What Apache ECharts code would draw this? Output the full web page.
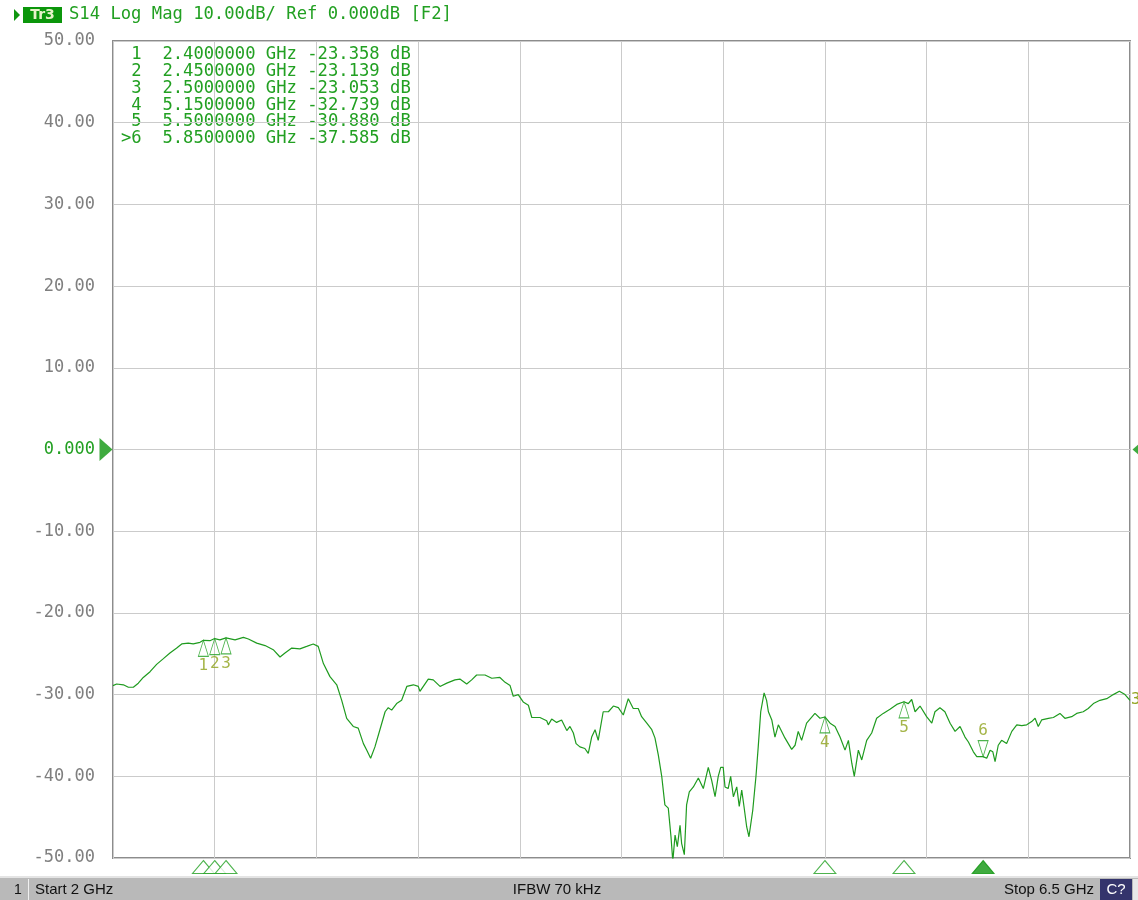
<!DOCTYPE html>
<html><head><meta charset="utf-8">
<script src="https://cdn.jsdelivr.net/npm/echarts@6/dist/echarts.min.js"></script>
<style>html,body{margin:0;padding:0;background:#fff;overflow:hidden}#c{width:1138px;height:900px}</style>
</head><body><div id="c"></div>
<script>
// ---- data ----
const freqGHz = [
2.000,2.001,2.016,2.046,2.068,2.090,2.112,2.134,2.164,2.193,2.223,2.252,2.282,2.304,2.333,2.355,2.385,2.400,2.429,2.450,2.473,2.500,2.540,2.577,2.599,2.636,2.673,2.709,2.739,2.761,2.791,2.827,2.857,2.886,2.908,2.931,2.960,2.990,
3.012,3.034,3.063,3.085,3.108,3.123,3.140,3.159,3.181,3.204,3.218,3.233,3.255,3.277,3.300,3.329,3.351,3.358,3.395,3.417,3.447,3.477,3.513,3.535,3.565,3.587,3.609,3.646,3.676,3.712,3.735,3.757,3.771,3.793,3.815,3.838,3.853,3.875,3.889,3.919,3.926,3.941,3.963,3.985,
4.008,4.022,4.037,4.049,4.066,4.088,4.103,4.118,4.133,4.147,4.169,4.192,4.214,4.236,4.258,4.280,4.302,4.324,4.339,4.362,4.384,4.398,4.413,4.428,4.442,4.457,4.469,4.477,4.487,4.497,4.509,4.516,4.528,4.538,4.550,4.568,4.590,4.612,4.634,4.649,4.664,4.678,4.689,4.700,4.708,4.722,4.733,4.745,4.760,4.771,4.782,4.792,4.804,4.814,4.831,4.845,4.855,4.866,4.881,4.892,4.900,4.915,4.929,4.944,4.951,4.973,
5.003,5.018,5.032,5.047,5.069,5.106,5.128,5.150,5.173,5.195,5.217,5.239,5.254,5.269,5.280,5.298,5.313,5.335,5.357,5.379,5.408,5.438,5.468,5.500,5.519,5.534,5.549,5.571,5.600,5.623,5.637,5.659,5.681,5.704,5.726,5.748,5.770,5.785,5.807,5.822,5.850,5.866,5.881,5.893,5.903,5.917,5.932,5.954,5.977,5.999,
6.021,6.043,6.065,6.080,6.094,6.109,6.139,6.161,6.190,6.212,6.242,6.264,6.293,6.315,6.338,6.367,6.397,6.426,6.453,6.478,6.500];
const magDB = [
-28.9,-28.9,-28.7,-28.8,-29.1,-29.1,-28.6,-27.9,-27.2,-26.3,-25.6,-24.9,-24.3,-23.8,-23.7,-23.8,-23.6,-23.36,-23.4,-23.14,-23.3,-23.05,-23.3,-23.0,-23.2,-23.7,-24.0,-24.5,-25.4,-24.9,-24.3,-24.4,-24.1,-23.8,-24.1,-26.2,-27.8,-28.8,
-30.7,-32.9,-33.9,-34.1,-36.0,-36.8,-37.8,-36.4,-34.3,-32.1,-31.6,-31.9,-31.1,-30.7,-29.0,-28.8,-29.0,-29.6,-28.1,-28.2,-29.0,-28.6,-28.2,-28.1,-28.7,-28.2,-27.6,-27.6,-28.0,-27.9,-28.5,-28.9,-30.2,-30.0,-30.9,-31.3,-32.8,-32.8,-32.8,-33.2,-33.7,-33.0,-33.4,-33.1,
-34.4,-33.9,-34.7,-36.0,-36.4,-36.6,-37.2,-35.2,-34.3,-35.6,-32.1,-32.1,-31.4,-31.6,-32.5,-30.5,-31.7,-31.7,-32.7,-33.5,-34.3,-35.3,-37.4,-40.0,-43.5,-43.9,-47.4,-50.4,-47.2,-48.6,-46.0,-48.2,-49.6,-43.5,-41.9,-41.3,-40.2,-41.5,-38.9,-40.5,-42.5,-40.0,-38.9,-38.9,-41.3,-41.5,-40.0,-42.5,-41.3,-43.7,-41.7,-43.7,-46.2,-47.4,-44.1,-40.0,-36.4,-32.1,-29.8,-30.7,-32.1,-33.1,-35.2,-33.7,-33.5,-35.3,
-36.7,-36.2,-34.5,-35.6,-33.5,-32.3,-32.9,-32.74,-33.5,-33.9,-35.2,-36.8,-35.6,-38.4,-40.0,-36.8,-38.0,-35.6,-34.7,-32.9,-32.3,-31.8,-31.2,-30.88,-31.1,-30.6,-32.1,-31.4,-32.7,-33.5,-32.1,-31.6,-32.1,-33.5,-34.5,-33.9,-35.2,-35.8,-37.0,-37.6,-37.59,-37.8,-36.8,-37.0,-38.2,-36.2,-35.6,-36.0,-34.5,-33.7,
-33.8,-33.7,-33.3,-32.9,-33.9,-33.1,-32.9,-32.8,-32.3,-32.9,-32.7,-32.3,-32.1,-31.7,-31.1,-30.7,-30.5,-30.0,-29.6,-30.0,-30.7];

const markerIds = ['1','2','3','4','5','6'];
const markerFreqGHz = [2.40, 2.45, 2.50, 5.15, 5.50, 5.85];
const markerDB = [-23.358, -23.139, -23.053, -32.739, -30.880, -37.585];
const activeMarker = 5; // index of ">6"

const yMin = -50, yMax = 50, yStep = 10;
const xStart = 2, xStop = 6.5, xDivisions = 10;
const titleText = 'S14 Log Mag 10.00dB/ Ref 0.000dB [F2]';
const traceTag = 'Tr3';
const traceNum = '3';
const channelNum = '1';
const startLabel = 'Start 2 GHz';
const ifbwLabel = 'IFBW 70 kHz';
const stopLabel = 'Stop 6.5 GHz';
const calLabel = 'C?';

// ---- styles ----
const GREEN = '#22a022';
const TRACE = '#1f9b1f';
const OLIVE = '#8fa31c';
const MONO = 'DejaVu Sans Mono';

const traceData = freqGHz.map((f, i) => [f, magDB[i]]);
const triUp = 'path://M5,0L10,16L0,16Z';
const triDown = 'path://M0,0L10,0L5,16Z';

const onTraceUp = [], onTraceDown = [], stim = [];
markerFreqGHz.forEach((f, i) => {
  const item = { value: [f, markerDB[i]], name: markerIds[i] };
  if (i === activeMarker) onTraceDown.push(item); else onTraceUp.push(item);
  stim.push({ value: [f, yMin], itemStyle: i === activeMarker ? { color: '#0f960f', borderColor: '#0f960f' } : {} });
});

const tableGraphics = markerIds.map((id, i) => {
  const pre = (i === activeMarker ? '>' : ' ') + id;
  const s = pre + '  ' + markerFreqGHz[i].toFixed(7) + ' GHz ' + markerDB[i].toFixed(3) + ' dB';
  return { type: 'text', x: 121, y: 55 + 16.7 * i, style: { text: s, fill: GREEN, font: '17.2px "' + MONO + '"', verticalAlign: 'middle' } };
});

const chart = echarts.init(document.getElementById('c'), null, { renderer: 'canvas' });
chart.setOption({
  animation: false,
  backgroundColor: '#ffffff',
  grid: { left: 113, right: 8, top: 41, bottom: 42, show: true, borderColor: '#8c8c8c', borderWidth: 2, backgroundColor: 'transparent' },
  xAxis: [
    { type: 'value', min: xStart, max: xStop, axisLine: { show: false }, axisTick: { show: false }, axisLabel: { show: false }, splitLine: { show: false } },
    { type: 'value', min: 0, max: xDivisions, interval: 1, position: 'bottom', axisLine: { show: false }, axisTick: { show: false }, axisLabel: { show: false },
      splitLine: { show: true, lineStyle: { color: '#cbcbcb', width: 1 } } }
  ],
  yAxis: {
    type: 'value', min: yMin, max: yMax, interval: yStep,
    axisLine: { show: false }, axisTick: { show: false },
    splitLine: { show: true, lineStyle: { color: '#cbcbcb', width: 1 } },
    axisLabel: {
      margin: 18, color: '#7f7f7f', fontFamily: MONO, fontSize: 17,
      formatter: v => v === 0 ? '{z|0.000}' : v.toFixed(2),
      rich: { z: { color: GREEN, fontFamily: MONO, fontSize: 17 } }
    }
  },
  series: [
    { type: 'line', xAxisIndex: 0, data: traceData, showSymbol: false, symbol: 'none', clip: true,
      lineStyle: { color: TRACE, width: 1.2 }, z: 5,
      endLabel: { show: true, formatter: traceNum, color: OLIVE, fontFamily: MONO, fontSize: 16, distance: 1 } },
    { type: 'scatter', xAxisIndex: 0, data: onTraceUp, symbol: triUp, symbolSize: [10, 16], symbolOffset: [0, 8], z: 6,
      itemStyle: { color: 'rgba(255,255,255,0)', borderColor: GREEN, borderWidth: 1 },
      label: { show: true, position: 'bottom', distance: 1, formatter: p => p.name, color: OLIVE, fontFamily: MONO, fontSize: 16 } },
    { type: 'scatter', xAxisIndex: 0, data: onTraceDown, symbol: triDown, symbolSize: [10, 16], symbolOffset: [0, -8], z: 6,
      itemStyle: { color: 'rgba(255,255,255,0)', borderColor: GREEN, borderWidth: 1 },
      label: { show: true, position: 'top', distance: 1, formatter: p => p.name, color: OLIVE, fontFamily: MONO, fontSize: 16 } },
    { type: 'scatter', xAxisIndex: 0, data: stim, symbol: 'path://M11,0L22,13L0,13Z', symbolSize: [22, 13], symbolOffset: [0, 9], clip: false, z: 6,
      itemStyle: { color: '#ffffff', borderColor: GREEN, borderWidth: 1 } },
    { type: 'scatter', xAxisIndex: 0, data: [[xStart, 0]], symbol: 'path://M0,0L13,11.5L0,23Z', symbolSize: [13, 23], symbolOffset: [-7, 0], clip: false, z: 6,
      itemStyle: { color: '#0f960f' } },
    { type: 'scatter', xAxisIndex: 0, data: [[xStop, 0]], symbol: 'path://M13,0L0,11.5L13,23Z', symbolSize: [13, 23], symbolOffset: [9, 0], clip: false, z: 6,
      itemStyle: { color: '#0f960f' } }
  ],
  graphic: [
    { type: 'polygon', shape: { points: [[14, 9], [20, 15], [14, 21]] }, style: { fill: '#0f960f' } },
    { type: 'rect', shape: { x: 23, y: 7, width: 39, height: 16 }, style: { fill: '#0b960b' } },
    { type: 'text', x: 42.5, y: 15.5, style: { text: traceTag, fill: '#e6f2c8', font: 'bold 14px "DejaVu Sans"', align: 'center', verticalAlign: 'middle' } },
    { type: 'text', x: 69, y: 15, style: { text: titleText, fill: GREEN, font: '17.2px "' + MONO + '"', verticalAlign: 'middle' } },
    ...tableGraphics,
    { type: 'rect', shape: { x: 0, y: 876, width: 1138, height: 2 }, style: { fill: '#e4e4e4' } },
    { type: 'rect', shape: { x: 0, y: 878, width: 1138, height: 22 }, style: { fill: '#b9b9b9' } },
    { type: 'text', x: 14, y: 890, style: { text: channelNum, fill: '#111', font: '14px "Liberation Sans"', verticalAlign: 'middle' } },
    { type: 'rect', shape: { x: 28, y: 879, width: 1, height: 21 }, style: { fill: '#f0f0f0' } },
    { type: 'text', x: 35, y: 890, style: { text: startLabel, fill: '#111', font: '15px "Liberation Sans"', verticalAlign: 'middle' } },
    { type: 'text', x: 557, y: 890, style: { text: ifbwLabel, fill: '#111', font: '15px "Liberation Sans"', align: 'center', verticalAlign: 'middle' } },
    { type: 'text', x: 1094, y: 890, style: { text: stopLabel, fill: '#111', font: '15px "Liberation Sans"', align: 'right', verticalAlign: 'middle' } },
    { type: 'rect', shape: { x: 1100, y: 879, width: 32, height: 21 }, style: { fill: '#34346c' } },
    { type: 'text', x: 1116, y: 890, style: { text: calLabel, fill: '#ffffff', font: '15px "Liberation Sans"', align: 'center', verticalAlign: 'middle' } },
    { type: 'rect', shape: { x: 1133, y: 879, width: 5, height: 21 }, style: { fill: '#e8e8e8' } }
  ]
});
</script>
</body></html>
